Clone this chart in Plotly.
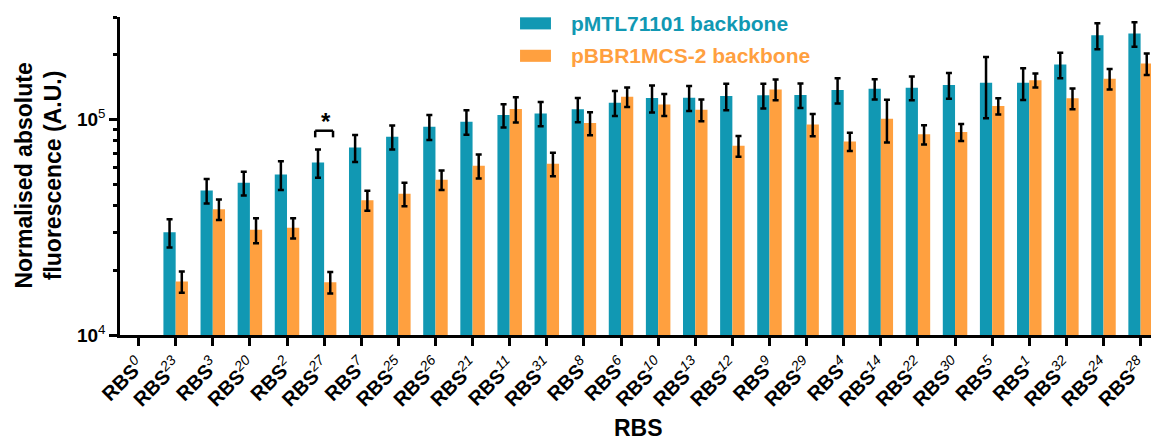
import math
import plotly.graph_objects as go

# ---------------- data ----------------
rbs_ids = ["0", "23", "3", "20", "2", "27", "7", "25", "26", "21", "11", "31", "8", "6",
           "10", "13", "12", "9", "29", "4", "14", "22", "30", "5", "1", "32", "24", "28"]

pmtl_mean = [None, 30000, 46900, 50900, 55700, 63300, 74300, 83400, 92800, 97900, 105100,
             107000, 111700, 120000, 126100, 126600, 128800, 129800, 130200, 137400, 139300,
             140900, 145000, 148600, 148600, 180300, 246700, 251200]
pmtl_sd = [None, 4500, 6100, 6400, 8500, 9500, 10600, 10700, 12400, 12700, 13000,
           13800, 14500, 16000, 18000, 16800, 18000, 17000, 17000, 18500, 15000,
           17800, 19800, 47000, 25000, 24500, 34000, 32700]

pbbr_mean = [None, 17700, 38400, 30800, 31500, 17600, 42300, 45300, 52600, 61100, 112100,
             62400, 96500, 127900, 117800, 111300, 75700, 138300, 95100, 79300, 101100,
             85500, 87600, 115800, 152400, 125700, 155100, 182200]
pbbr_sd = [None, 2000, 4200, 4100, 3400, 2000, 4500, 5700, 5500, 7800, 15000,
           7800, 11700, 13400, 13800, 12800, 8400, 15300, 11200, 7700, 22700,
           8700, 8000, 10100, 11400, 14000, 17000, 21000]

series_names = ["pMTL71101 backbone", "pBBR1MCS-2 backbone"]
y_major = [1e4, 1e5]
y_major_text = ["<b>10</b><sup>4</sup>", "<b>10</b><sup>5</sup>"]
y_minor = [2e4, 3e4, 4e4, 5e4, 6e4, 7e4, 8e4, 9e4, 2e5, 3e5]

# significance marker (RBS27, index 5)
sig_index = 5
sig_low, sig_high = 82800, 88900

# ---------------- style ----------------
TEAL = "#1198B3"
ORANGE = "#FFA03F"
FONT = "Liberation Sans, Arial, sans-serif"

cats = list(range(len(rbs_ids)))
tick_text = [f"<b>RBS</b><sup><i>{n}</i></sup>" for n in rbs_ids]

fig = go.Figure()
fig.add_trace(go.Bar(
    x=cats, y=pmtl_mean, name=series_names[0], marker=dict(color=TEAL, line=dict(width=0)),
    error_y=dict(type="data", array=pmtl_sd, color="black", thickness=2.5, width=3),
))
fig.add_trace(go.Bar(
    x=cats, y=pbbr_mean, name=series_names[1], marker=dict(color=ORANGE, line=dict(width=0)),
    error_y=dict(type="data", array=pbbr_sd, color="black", thickness=2.5, width=3),
))

fig.update_layout(
    width=1151, height=441,
    margin=dict(l=120, r=0, t=17, b=106, autoexpand=False),
    paper_bgcolor="white", plot_bgcolor="white",
    barmode="group", bargap=0.34, bargroupgap=0,
    showlegend=False,
    font=dict(family=FONT, color="black"),
)

fig.update_xaxes(
    type="linear", range=[-0.5, 27.28], automargin=False,
    tickmode="array", tickvals=cats, ticktext=tick_text,
    tickangle=-45, tickfont=dict(size=20, family=FONT, color="black"),
    ticks="outside", ticklen=8, tickwidth=2.5, tickcolor="black",
    showline=True, linecolor="black", linewidth=2.5,
    showgrid=False, zeroline=False,
)

fig.update_yaxes(
    type="log", range=[4, math.log10(3e5)], automargin=False,
    tickmode="array", tickvals=y_major, ticktext=y_major_text,
    tickfont=dict(size=19, family=FONT, color="black"),
    ticks="outside", ticklen=8, tickwidth=2.5, tickcolor="black",
    minor=dict(tickmode="array", tickvals=y_minor, ticks="outside", ticklen=4,
               tickwidth=2.5, tickcolor="black", showgrid=False),
    showline=True, linecolor="black", linewidth=2.5,
    showgrid=False, zeroline=False,
)

# axis titles
fig.add_annotation(
    text="<b>Normalised absolute<br>fluorescence (A.U.)</b>",
    xref="paper", yref="paper", x=-0.079, y=0.5, textangle=-90,
    showarrow=False, font=dict(size=23, family=FONT, color="black"),
    xanchor="center", yanchor="middle",
)
fig.add_annotation(
    text="<b>RBS</b>", xref="paper", yref="paper", x=0.503, y=-0.292,
    showarrow=False, font=dict(size=23, family=FONT, color="black"),
    xanchor="center", yanchor="middle",
)

# legend (drawn manually to match wide colour keys)
legend_rows = [(series_names[0], TEAL, 0.980), (series_names[1], ORANGE, 0.878)]
for name, col, yc in legend_rows:
    fig.add_shape(type="rect", xref="paper", yref="paper",
                  x0=0.388, x1=0.418, y0=yc - 0.019, y1=yc + 0.019,
                  fillcolor=col, line=dict(width=0))
    fig.add_annotation(text=f"<b>{name}</b>", xref="paper", yref="paper",
                       x=0.4355, y=yc, xanchor="left", yanchor="middle",
                       showarrow=False, font=dict(size=21, family=FONT, color=col))

# significance bracket
bl, br = sig_index - 0.24, sig_index + 0.24
line_style = dict(color="black", width=2.5)
fig.add_shape(type="line", xref="x", yref="y", x0=bl, x1=br, y0=sig_high, y1=sig_high, line=line_style)
fig.add_shape(type="line", xref="x", yref="y", x0=bl, x1=bl, y0=sig_low, y1=sig_high, line=line_style)
fig.add_shape(type="line", xref="x", yref="y", x0=br, x1=br, y0=sig_low, y1=sig_high, line=line_style)
fig.add_annotation(text="<b>*</b>", xref="x", yref="y", x=sig_index + 0.05,
                   y=math.log10(sig_high), yanchor="bottom", yshift=-6,
                   showarrow=False, font=dict(size=24, family=FONT, color="black"))

fig.write_html("out.html",
               config={"displayModeBar": False},
               post_script="document.body.style.margin='0px';document.body.style.overflow='hidden';")
